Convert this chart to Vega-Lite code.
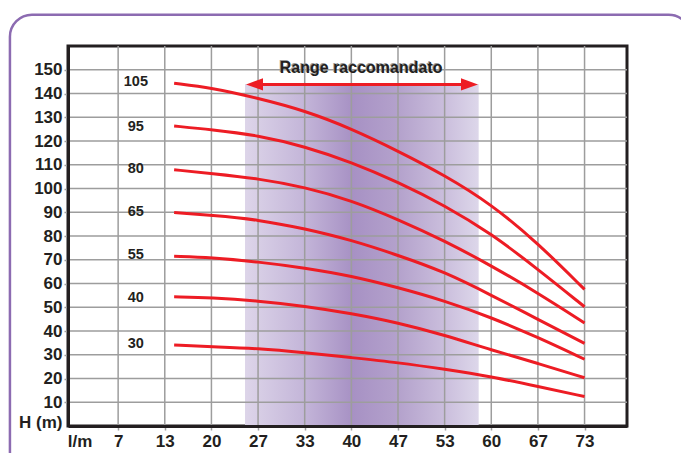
{
  "$schema": "https://vega.github.io/schema/vega-lite/v6.json",
  "width": 559,
  "height": 380,
  "autosize": {"type": "none"},
  "padding": {"left": 68, "top": 46, "right": 54, "bottom": 27},
  "background": "white",
  "config": {
    "view": {"stroke": "#231f20", "strokeWidth": 3},
    "font": "Liberation Sans",
    "axis": {"grid": false}
  },
  "datasets": {
    "band": [{"q": 24.8, "q2": 58.2, "h": 0, "h2": 144}],
    "vgrid": [{"q": 6.6667}, {"q": 13.3333}, {"q": 20}, {"q": 26.6667}, {"q": 33.3333}, {"q": 40}, {"q": 46.6667}, {"q": 53.3333}, {"q": 60}, {"q": 66.6667}, {"q": 73.3333}],
    "hgrid": [{"h": 10}, {"h": 20}, {"h": 30}, {"h": 40}, {"h": 50}, {"h": 60}, {"h": 70}, {"h": 80}, {"h": 90}, {"h": 100}, {"h": 110}, {"h": 120}, {"h": 130}, {"h": 140}, {"h": 150}],
    "arrow": [{"q": 25.8, "q2": 57.3, "h": 143.8}],
    "heads": [{"q": 24.94, "h": 143.8, "dir": "left"}, {"q": 58.1, "h": 143.8, "dir": "right"}],
    "title": [{"q": 41.4, "h": 150.7, "t": "Range raccomandato"}],
    "frame": [{"q": -8.8, "q2": 88.5, "h": 173.2, "h2": -20}],
    "labels": [
      {"model": "105", "q": 9.2, "h": 144.8},
      {"model": "95", "q": 9.2, "h": 125.9},
      {"model": "80", "q": 9.2, "h": 108.4},
      {"model": "65", "q": 9.2, "h": 90.1},
      {"model": "55", "q": 9.2, "h": 71.9},
      {"model": "40", "q": 9.2, "h": 54.0},
      {"model": "30", "q": 9.2, "h": 34.4}
    ],
    "curves": [
      {"model": "105", "q": 14.67, "h": 144.3}, {"model": "105", "q": 20, "h": 142.4}, {"model": "105", "q": 26.67, "h": 138.0}, {"model": "105", "q": 33.33, "h": 132.8}, {"model": "105", "q": 40, "h": 125.2}, {"model": "105", "q": 46.67, "h": 115.8}, {"model": "105", "q": 53.33, "h": 105.6}, {"model": "105", "q": 60, "h": 93.4}, {"model": "105", "q": 66.67, "h": 77.0}, {"model": "105", "q": 73.33, "h": 57.5},
      {"model": "95", "q": 14.67, "h": 126.3}, {"model": "95", "q": 20, "h": 124.8}, {"model": "95", "q": 26.67, "h": 122.4}, {"model": "95", "q": 33.33, "h": 117.7}, {"model": "95", "q": 40, "h": 111.1}, {"model": "95", "q": 46.67, "h": 102.7}, {"model": "95", "q": 53.33, "h": 92.9}, {"model": "95", "q": 60, "h": 81.0}, {"model": "95", "q": 66.67, "h": 66.0}, {"model": "95", "q": 73.33, "h": 50.2},
      {"model": "80", "q": 14.67, "h": 107.9}, {"model": "80", "q": 20, "h": 106.3}, {"model": "80", "q": 26.67, "h": 104.2}, {"model": "80", "q": 33.33, "h": 100.6}, {"model": "80", "q": 40, "h": 95.0}, {"model": "80", "q": 46.67, "h": 87.0}, {"model": "80", "q": 53.33, "h": 78.0}, {"model": "80", "q": 60, "h": 67.5}, {"model": "80", "q": 66.67, "h": 56.0}, {"model": "80", "q": 73.33, "h": 43.4},
      {"model": "65", "q": 14.67, "h": 89.9}, {"model": "65", "q": 20, "h": 88.7}, {"model": "65", "q": 26.67, "h": 86.9}, {"model": "65", "q": 33.33, "h": 83.1}, {"model": "65", "q": 40, "h": 78.3}, {"model": "65", "q": 46.67, "h": 71.9}, {"model": "65", "q": 53.33, "h": 64.9}, {"model": "65", "q": 60, "h": 55.1}, {"model": "65", "q": 66.67, "h": 44.9}, {"model": "65", "q": 73.33, "h": 34.8},
      {"model": "55", "q": 14.67, "h": 71.5}, {"model": "55", "q": 20, "h": 71.0}, {"model": "55", "q": 26.67, "h": 69.1}, {"model": "55", "q": 33.33, "h": 66.6}, {"model": "55", "q": 40, "h": 63.2}, {"model": "55", "q": 46.67, "h": 58.3}, {"model": "55", "q": 53.33, "h": 52.7}, {"model": "55", "q": 60, "h": 45.7}, {"model": "55", "q": 66.67, "h": 37.3}, {"model": "55", "q": 73.33, "h": 28.1},
      {"model": "40", "q": 14.67, "h": 54.4}, {"model": "40", "q": 20, "h": 54.0}, {"model": "40", "q": 26.67, "h": 52.7}, {"model": "40", "q": 33.33, "h": 50.5}, {"model": "40", "q": 40, "h": 47.4}, {"model": "40", "q": 46.67, "h": 43.5}, {"model": "40", "q": 53.33, "h": 38.3}, {"model": "40", "q": 60, "h": 32.0}, {"model": "40", "q": 66.67, "h": 26.4}, {"model": "40", "q": 73.33, "h": 20.3},
      {"model": "30", "q": 14.67, "h": 34.1}, {"model": "30", "q": 20, "h": 33.4}, {"model": "30", "q": 26.67, "h": 32.7}, {"model": "30", "q": 33.33, "h": 30.9}, {"model": "30", "q": 40, "h": 28.8}, {"model": "30", "q": 46.67, "h": 26.7}, {"model": "30", "q": 53.33, "h": 23.9}, {"model": "30", "q": 60, "h": 20.8}, {"model": "30", "q": 66.67, "h": 16.6}, {"model": "30", "q": 73.33, "h": 12.4}
    ]
  },
  "encoding": {
    "x": {"field": "q", "type": "quantitative", "scale": {"domain": [-0.5, 79.4], "nice": false, "zero": false},
      "axis": {
        "title": null, "grid": false, "zindex": 1,
        "values": [0, 6.6667, 13.3333, 20, 26.6667, 33.3333, 40, 46.6667, 53.3333, 60, 66.6667, 73.3333],
        "labelExpr": "datum.value == 0 ? 'l/m' : format(datum.value, '.0f')",
        "labelFont": "Liberation Sans", "labelFontWeight": "bold", "labelFontSize": 17, "labelColor": "#231f20",
        "labelOffset": {"condition": {"test": "datum.value == 0", "value": 8}, "value": 0},
        "labelPadding": 3, "labelOverlap": false, "labelFlush": false,
        "tickColor": "#9d9d9d", "tickWidth": 1.5, "tickSize": 4,
        "tickOpacity": {"condition": {"test": "datum.value == 0", "value": 0}, "value": 1},
        "domainColor": "#231f20", "domainWidth": 3
      }
    },
    "y": {"field": "h", "type": "quantitative", "scale": {"domain": [0, 160], "nice": false},
      "axis": {
        "title": null, "grid": false, "zindex": 1,
        "values": [0, 10, 20, 30, 40, 50, 60, 70, 80, 90, 100, 110, 120, 130, 140, 150],
        "labelExpr": "datum.value == 0 ? 'H (m)' : datum.label",
        "labelFont": "Liberation Sans", "labelFontWeight": "bold", "labelFontSize": 17, "labelColor": "#231f20",
        "labelOffset": {"condition": {"test": "datum.value == 0", "value": -4}, "value": 0},
        "labelPadding": 2, "labelOverlap": false, "labelFlush": false,
        "tickColor": "#9d9d9d", "tickWidth": 1.5, "tickSize": 4,
        "tickOpacity": {"condition": {"test": "datum.value == 0", "value": 0}, "value": 1},
        "domainColor": "#231f20", "domainWidth": 3
      }
    }
  },
  "layer": [
    {
      "data": {"name": "frame"},
      "mark": {"type": "rect", "filled": false, "stroke": "#8c6bb1", "strokeWidth": 2.5, "cornerRadius": 22, "clip": false},
      "encoding": {"x2": {"field": "q2"}, "y2": {"field": "h2"}}
    },
    {
      "data": {"name": "band"},
      "mark": {"type": "rect", "fill": {"gradient": "linear", "x1": 0, "y1": 0, "x2": 1, "y2": 0, "stops": [
        {"offset": 0, "color": "#ddd5e9"},
        {"offset": 0.25, "color": "#c4b6d9"},
        {"offset": 0.46, "color": "#a791c4"},
        {"offset": 0.66, "color": "#b4a2cc"},
        {"offset": 0.86, "color": "#cbbfdd"},
        {"offset": 1, "color": "#ddd7ea"}
      ]}},
      "encoding": {"x2": {"field": "q2"}, "y2": {"field": "h2"}}
    },
    {
      "data": {"name": "vgrid"},
      "mark": {"type": "rule", "color": "#9d9d9d", "strokeWidth": 1.5},
      "encoding": {"y": null}
    },
    {
      "data": {"name": "hgrid"},
      "mark": {"type": "rule", "color": "#9d9d9d", "strokeWidth": 1.5},
      "encoding": {"x": null}
    },
    {
      "data": {"name": "arrow"},
      "mark": {"type": "rule", "color": "#ed1c24", "strokeWidth": 3},
      "encoding": {"x2": {"field": "q2"}}
    },
    {
      "data": {"name": "heads"},
      "mark": {"type": "point", "filled": true, "opacity": 1, "size": 289, "strokeWidth": 0},
      "encoding": {
        "shape": {"field": "dir", "type": "nominal", "legend": null, "scale": {"domain": ["left", "right"], "range": ["M0,0L2,-0.72L2,0.72Z", "M0,0L-2,-0.72L-2,0.72Z"]}},
        "color": {"value": "#ed1c24"}
      }
    },
    {
      "data": {"name": "title"},
      "mark": {"type": "text", "font": "Liberation Sans", "fontWeight": "bold", "fontSize": 16, "color": "#9a9a9a", "align": "center", "baseline": "middle", "dx": -1, "dy": -1},
      "encoding": {"text": {"field": "t"}}
    },
    {
      "data": {"name": "title"},
      "mark": {"type": "text", "font": "Liberation Sans", "fontWeight": "bold", "fontSize": 16, "color": "#231f20", "align": "center", "baseline": "middle"},
      "encoding": {"text": {"field": "t"}}
    },
    {
      "data": {"name": "curves"},
      "mark": {"type": "line", "color": "#ed1c24", "strokeWidth": 3, "interpolate": "basis"},
      "encoding": {"detail": {"field": "model", "type": "nominal"}}
    },
    {
      "data": {"name": "labels"},
      "mark": {"type": "text", "font": "Liberation Sans", "fontWeight": "bold", "fontSize": 14.5, "color": "#231f20", "align": "center", "baseline": "middle"},
      "encoding": {"text": {"field": "model"}}
    }
  ]
}
